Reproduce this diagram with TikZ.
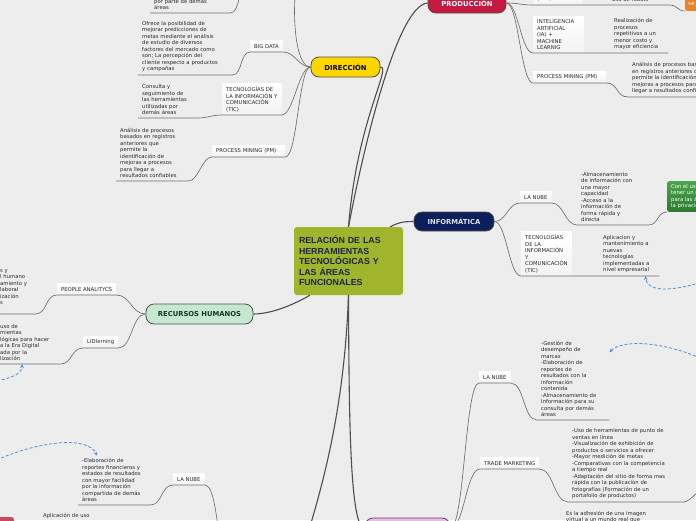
\documentclass[tikz,border=0pt]{standalone}
\usepackage{fontspec}
\setmainfont{DejaVu Sans}
\newfontfamily\titlefont{Liberation Sans}
\usetikzlibrary{arrows.meta}
\definecolor{canvasGray}{HTML}{EDEDED}
\definecolor{hubGreen}{HTML}{A0B52C}
\definecolor{hubText}{HTML}{1C2540}
\definecolor{dirYellow}{HTML}{FFD600}
\definecolor{prodRed}{HTML}{C41A40}
\definecolor{infoNavy}{HTML}{0C1F5A}
\definecolor{infoText}{HTML}{DCE4F4}
\definecolor{rrhhMint}{HTML}{C6E8D0}
\definecolor{rrhhText}{HTML}{1D3527}
\definecolor{mktPink}{HTML}{EDB9E6}
\definecolor{finRed}{HTML}{C9485B}
\definecolor{noteGreen}{HTML}{4CA64C}
\definecolor{noteGreenDark}{HTML}{2C7A30}
\definecolor{noteOrange}{HTML}{E8832A}
\definecolor{relBlue}{HTML}{4A90E2}
\definecolor{lineGray}{HTML}{6E6E6E}
\definecolor{spokeGray}{HTML}{4E4E4E}
\definecolor{labelText}{HTML}{2A2A2A}
\newcommand{\mapfont}{\fontsize{5.3}{6.5}\selectfont}
\newcommand{\topicfont}{\bfseries\fontsize{6.8}{8}\selectfont}

\begin{document}
\begin{tikzpicture}[x=1pt, y=-1pt,
    % ── shared styles ───────────────────────────────────────────────
    hub node/.style={
        rectangle, rounded corners=3pt, fill=hubGreen,
        font=\titlefont\bfseries\fontsize{8.8}{10.5}\selectfont, text=hubText,
        text width=99pt, inner xsep=5pt, minimum height=68pt, align=left,
    },
    main topic/.style={
        rectangle, rounded corners=8pt, draw=spokeGray, line width=0.8pt,
        font=\topicfont, minimum height=20pt, inner sep=0pt,
    },
    sub topic/.style={
        rectangle, top color=white, bottom color=black!5,
        font=\mapfont, text=labelText, align=left, anchor=south west,
        inner xsep=4pt, inner ysep=3pt, minimum height=11pt,
    },
    detail text/.style={
        font=\mapfont, text=labelText, align=left, anchor=south west,
        inner xsep=4pt, inner ysep=2.8pt,
    },
    note box/.style={
        rectangle, rounded corners=2pt, font=\mapfont, text=white,
        align=left, anchor=south west, inner xsep=4pt, inner ysep=3pt,
    },
    branch line/.style={draw=lineGray, line width=0.65pt},
    spoke line/.style={draw=spokeGray, line width=1.1pt},
    relation line/.style={
        draw=relBlue, line width=0.8pt, dash pattern=on 3pt off 2pt,
        -{Stealth[length=4pt,width=3.5pt]},
    },
]
\useasboundingbox (0,0) rectangle (696,520);
\clip (0,0) rectangle (696,520);
\fill[canvasGray] (0,0) rectangle (696,520);

% =============================================================
%  CENTRAL TOPIC
% =============================================================
\node[hub node] (central) at (348.5,261)
    {RELACIÓN DE LAS\\HERRAMIENTAS\\TECNOLÓGICAS Y\\LAS ÁREAS\\FUNCIONALES};

% =============================================================
%  MAIN TOPICS
% =============================================================
\node[main topic, fill=dirYellow, text=black, minimum width=69pt] (dir)
    at (345.5,67) {DIRECCIÓN};
\node[main topic, fill=prodRed, text=white, minimum width=78pt] (prod)
    at (467,3) {PRODUCCIÓN};
\node[main topic, fill=infoNavy, text=infoText, minimum width=80pt,
      minimum height=19pt] (info) at (454,221.5) {INFORMÁTICA};
\node[main topic, fill=rrhhMint, text=rrhhText, minimum width=107pt] (rrhh)
    at (199.5,314) {RECURSOS HUMANOS};
\node[main topic, fill=mktPink, minimum width=85pt] (mkt) at (407.5,528) {};

% topic below the frame, only its links show
\coordinate (finE) at (302,553);
\coordinate (finW) at (228,555);

% Connection lines (central -> main topics)
\draw[spoke line] (central.north) .. controls (357,120) and (392,67) .. (dir.east);
\draw[spoke line] (central.north) .. controls (365,140) and (398,5) .. (prod.west);
\draw[spoke line] ([xshift=-13pt]central.north east)
    .. controls +(8,-4) and +(-12,0) .. (info.west);
\draw[spoke line] (rrhh.east) .. controls +(22,0) and (302,300)
    .. ([xshift=16pt]central.south west);
\draw[spoke line] (central.south) .. controls (349,420) and (350,528) .. (mkt.west);
\draw[spoke line] (central.south) .. controls (344,420) and (318,500) .. (finE);

% =============================================================
%  DIRECCIÓN -- branches to the left
% =============================================================
\coordinate (topDirE) at (296,-16);
\coordinate (topDirW) at (248,-16);
\node[detail text, text width=72pt] (topDirTxt) at (150,13)
    {por parte de demás\\áreas};

\node[sub topic] (bigData) at (250,52) {BIG DATA};
\node[detail text, text width=86pt] (bigDataTxt) at (138,75)
    {Ofrece la posibilidad de\\mejorar predicciones de\\metas mediante el análisis\\de estudio de diversos\\factores del mercado como\\son; La percepción del\\cliente respecto a productos\\y campañas};

\node[sub topic] (ticDir) at (222,115)
    {TECNOLOGÍAS DE\\LA INFORMACIÓN Y\\COMUNICACIÓN\\(TIC)};
\node[detail text, text width=51pt] (ticDirTxt) at (138,118)
    {Consulta y\\seguimiento de\\las herramientas\\utilizadas por\\demás áreas};

\node[sub topic, text width=65pt] (pmDir) at (212,157) {PROCESS MINING (PM)};
\node[detail text, text width=64pt] (pmDirTxt) at (116,181)
    {Análisis de procesos\\basados en registros\\anteriores que\\permite la\\identificación de\\mejoras a procesos\\para llegar a\\resultados confiables};

\draw[branch line] (dir.west) .. controls (296,67) and (292,20) .. (topDirE) -- (topDirW)
    .. controls +(-10,0) and +(10,0) .. (topDirTxt.south east) -- (topDirTxt.south west);
\draw[branch line] (dir.west) .. controls +(-12,0) and +(12,0) .. (bigData.south east)
    -- (bigData.south west)
    .. controls +(-10,0) and +(10,0) .. (bigDataTxt.south east) -- (bigDataTxt.south west);
\draw[branch line] (dir.west) .. controls +(-12,0) and +(12,0) .. (ticDir.south east)
    -- (ticDir.south west)
    .. controls +(-10,0) and +(10,0) .. (ticDirTxt.south east) -- (ticDirTxt.south west);
\draw[branch line] (dir.west) .. controls +(-12,0) and +(12,0) .. (pmDir.south east)
    -- (pmDir.south west)
    .. controls +(-10,0) and +(10,0) .. (pmDirTxt.south east) -- (pmDirTxt.south west);

% =============================================================
%  PRODUCCIÓN -- branches to the right
% =============================================================
\node[sub topic, text width=41pt] (rpa) at (533,5) {(RPA)};
\node[detail text, text width=52pt] (rpaTxt) at (608,5) {uso de robots};
\node[note box, fill=noteOrange, text width=28pt, minimum height=22pt,
      inner xsep=3pt] (rpaNote) at (685,11) {la\\ve};

\node[sub topic, text width=43pt] (ia) at (533,53)
    {INTELIGENCIA\\ARTIFICIAL\\(IA) +\\MACHINE\\LEARNIG};
\node[detail text, text width=50pt] (iaTxt) at (610,53)
    {Realización de\\procesos\\repetitivos a un\\menor costo y\\mayor eficiencia};

\node[sub topic, text width=65pt] (pmProd) at (533,83) {PROCESS MINING (PM)};
\node[detail text, text width=100pt] (pmProdTxt) at (628,97)
    {Análisis de procesos basados\\en registros anteriores que\\permite la identificación de\\mejoras a procesos para\\llegar a resultados confiables};

\draw[branch line] (prod.east) .. controls +(12,0) and +(-12,0) .. (rpa.south west)
    -- (rpa.south east) -- (rpaTxt.south west) -- (rpaTxt.south east)
    .. controls +(10,0) and +(-8,0) .. (rpaNote.south west);
\draw[branch line] (prod.east) .. controls +(12,0) and +(-12,0) .. (ia.south west)
    -- (ia.south east) -- (iaTxt.south west) -- (iaTxt.south east);
\draw[branch line] (prod.east) .. controls +(12,0) and +(-12,0) .. (pmProd.south west)
    -- (pmProd.south east)
    .. controls +(12,0) and +(-12,0) .. (pmProdTxt.south west) -- (pmProdTxt.south east);

% =============================================================
%  INFORMÁTICA -- branches to the right
% =============================================================
\node[sub topic] (nubeInfo) at (520,203) {LA NUBE};
\node[detail text, text width=63pt] (nubeInfoTxt) at (577,225)
    {-Almacenamiento\\de información con\\una mayor\\capacidad\\-Acceso a la\\información de\\forma rápida y\\directa};
\node[note box, top color=noteGreen, bottom color=noteGreenDark,
      minimum height=30pt] (nubeNote) at (667,212)
    {Con el uso de la nube se puede\\tener un mejor control\\para las áreas y\\la privacidad};

\node[sub topic, minimum height=44pt] (ticInfo) at (521,276)
    {TECNOLOGÍAS\\DE LA\\INFORMACIÓN\\Y\\COMUNICACIÓN\\(TIC)};
\node[detail text, text width=52pt] (ticInfoTxt) at (599,276)
    {Aplicacion y\\mantenimiento a\\nuevas\\tecnologías\\implementadas a\\nivel empresarial};

\draw[branch line] (info.east) .. controls +(12,0) and +(-12,0) .. (nubeInfo.south west)
    -- (nubeInfo.south east)
    .. controls +(12,0) and +(-12,0) .. (nubeInfoTxt.south west) -- (nubeInfoTxt.south east)
    .. controls +(10,0) and +(-10,0) .. (nubeNote.south west);
\draw[branch line] (info.east) .. controls +(12,0) and +(-12,0) .. (ticInfo.south west)
    -- (ticInfo.south east) -- (ticInfoTxt.south west) -- (ticInfoTxt.south east);

% =============================================================
%  RECURSOS HUMANOS -- branches to the left
% =============================================================
\node[sub topic] (people) at (57,295) {PEOPLE ANALITYCS};
\node[detail text, text width=31pt] (peopleTxt) at (-4,314)
    {s y\\l humano\\amiento y\\laboral\\ización\\s\\\mbox{}};

\node[sub topic] (lid) at (83,348) {LIDlerning};
\node[detail text, text width=56pt] (lidTxt) at (-4,364)
    {uso de\\mientas\\lógicas para hacer\\a la Era Digital\\ada por la\\lización};

\draw[branch line] (rrhh.west) .. controls +(-14,0) and +(14,0) .. (people.south east)
    -- (people.south west)
    .. controls +(-12,0) and +(12,0) .. (peopleTxt.south east) -- (peopleTxt.south west);
\draw[branch line] (rrhh.west) .. controls +(-14,0) and +(14,0) .. (lid.south east)
    -- (lid.south west)
    .. controls +(-12,0) and +(12,0) .. (lidTxt.south east) -- (lidTxt.south west);

% =============================================================
%  BOTTOM -- topics below the frame
% =============================================================
\node[sub topic] (nubeMkt) at (479,383) {LA NUBE};
\node[detail text, text width=64pt] (nubeMktTxt) at (537,420)
    {-Gestión de\\desempeño de\\marcas\\-Elaboración de\\reportes de\\resultados con la\\información\\contenida\\-Almacenamiento de\\Información para su\\consulta por demás\\áreas};

\node[sub topic] (tm) at (480,469) {TRADE MARKETING};
\node[detail text, text width=107pt] (tmTxt) at (568,502)
    {-Uso de herramientas de punto de\\ventas en línea\\-Visualización de exhibición de\\productos o servicios a ofrecer\\-Mayor medición de metas\\-Comparativas con la competencia\\a tiempo real\\-Adaptación del sitio de forma mas\\rápida con la publicación de\\fotografías (Formación de un\\portafolio de productos)};
\coordinate (tmNote) at (708,486);
\node[detail text, anchor=north west] (arTxt) at (562,508)
    {Es la adhesión de una imagen\\virtual a un mundo real que};

\draw[branch line] (mkt.east) .. controls +(14,0) and +(-14,0) .. (nubeMkt.south west)
    -- (nubeMkt.south east)
    .. controls +(14,0) and +(-14,0) .. (nubeMktTxt.south west) -- (nubeMktTxt.south east);
\draw[branch line] (mkt.east) .. controls +(14,0) and +(-14,0) .. (tm.south west)
    -- (tm.south east)
    .. controls +(14,0) and +(-14,0) .. (tmTxt.south west) -- (tmTxt.south east)
    .. controls +(8,0) and +(-8,0) .. (tmNote);

\node[sub topic] (nubeFin) at (173,485) {LA NUBE};
\node[detail text, text width=64pt] (nubeFinTxt) at (78,505)
    {-Elaboración de\\reportes financieros y\\estados de resultados\\con mayor facilidad\\por la información\\compartida de demás\\áreas};
\node[detail text, anchor=north west] (appTxt) at (39,510.5) {Aplicación de uso};
\node[note box, fill=finRed, anchor=north east, minimum width=44pt,
      minimum height=20pt] (finNote) at (14,517) {};

\draw[branch line] (finW) .. controls +(-12,0) and +(14,0) .. (nubeFin.south east)
    -- (nubeFin.south west)
    .. controls +(-12,0) and +(12,0) .. (nubeFinTxt.south east) -- (nubeFinTxt.south west);

% =============================================================
%  Relation arrows (dashed)
% =============================================================
\coordinate (relA) at (705,281);
\coordinate (relB) at (705,360);
\coordinate (relC) at (-8,382);
\coordinate (relD) at (-8,462);
\draw[relation line] (relA) .. controls (672,292) and (647,292)
    .. ([xshift=-14pt]ticInfoTxt.south east);
\draw[relation line] (relB) .. controls (660,340) and (622,340)
    .. ([yshift=-14pt]nubeMktTxt.north east);
\draw[relation line] (relC) .. controls (12,378) and (22,374)
    .. ([xshift=26pt]lidTxt.south west);
\draw[relation line] (relD) .. controls (40,440) and (88,436)
    .. ([xshift=19pt]nubeFinTxt.north west);

\end{tikzpicture}
\end{document}
